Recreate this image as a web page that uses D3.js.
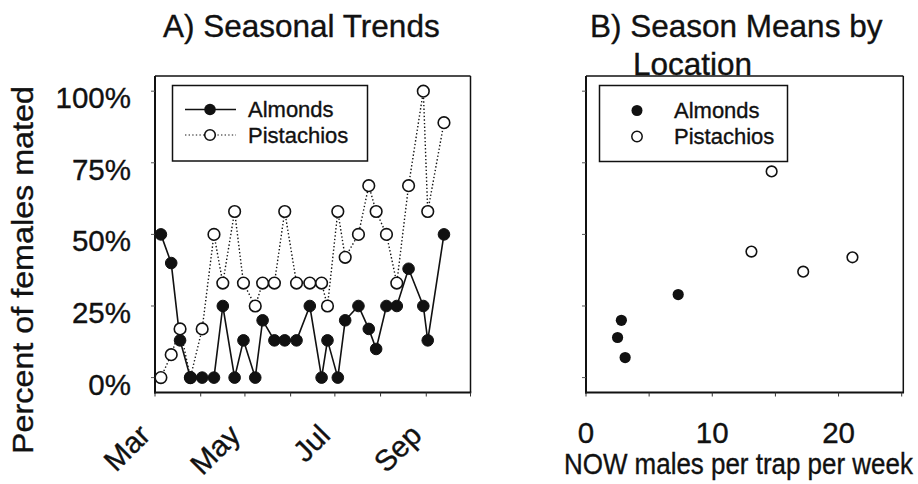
<!DOCTYPE html>
<html>
<head>
<meta charset="utf-8">
<script src="https://cdn.jsdelivr.net/npm/d3@7"></script>
<style>
  html, body { margin: 0; padding: 0; background: #fff; }
  svg { display: block; font-family: "Liberation Sans", Arial, sans-serif; }
  svg text { stroke: #111; stroke-width: 0.35px; }
</style>
</head>
<body>
<svg id="chart" width="918" height="484"></svg>
<script>
// ---- Data ----
const sampleDates = ["2001-03-05","2001-03-12","2001-03-18","2001-03-25","2001-04-02","2001-04-10",
  "2001-04-16","2001-04-24","2001-04-30","2001-05-08","2001-05-13","2001-05-21","2001-05-28",
  "2001-06-05","2001-06-14","2001-06-22","2001-06-26","2001-07-03","2001-07-08","2001-07-17",
  "2001-07-24","2001-07-29","2001-08-05","2001-08-12","2001-08-20","2001-08-30","2001-09-02","2001-09-13"];
const almondsPct = [50, 40, 13, 0, 0, 0, 25, 0, 13, 0, 20, 13, 13, 13, 25, 0, 13, 0, 20, 25, 17, 10, 25, 25, 38, 25, 13, 50];
const pistachiosPct = [0, 8, 17, 0, 17, 50, 33, 58, 33, 25, 33, 33, 58, 33, 33, 33, 25, 58, 42, 50, 67, 58, 50, 33, 67, 100, 58, 89];

const almondMeansX = [2.8, 2.5, 3.1, 7.3];
const almondMeansY = [20, 14, 7, 29];
const pistachioMeansX = [14.7, 13.1, 17.2, 21.1];
const pistachioMeansY = [72, 44, 37, 42];

const yTickValues = [0, 25, 50, 75, 100];
const yTickLabels = ["0%", "25%", "50%", "75%", "100%"];
const monthTicks = ["2001-03-01","2001-04-01","2001-05-01","2001-06-01","2001-07-01","2001-08-01","2001-09-01","2001-10-01"];
const monthLabels = ["Mar", "", "May", "", "Jul", "", "Sep", ""];
const bTickValues = [0, 5, 10, 15, 20, 25];
const bTickLabels = ["0", "", "10", "", "20", ""];
const seriesNames = ["Almonds", "Pistachios"];

// ---- Setup ----
const svg = d3.select("#chart");
const parse = d3.timeParse("%Y-%m-%d");
const dates = sampleDates.map(parse);

const y = d3.scaleLinear().domain([-5.2, 105.3]).range([392.5, 76]);

// Panel A scales
const xA = d3.scaleTime().domain([parse("2001-03-01"), parse("2001-10-01")]).range([155, 470.5]);
// Panel B scales
const xB = d3.scaleLinear().domain([0, 25]).range([586, 901.7]);

const black = "#111";

function drawFrame(x0, x1) {
  const g = svg.append("g");
  g.append("line").attr("x1", x0).attr("x2", x1).attr("y1", y.range()[1]).attr("y2", y.range()[1])
    .attr("stroke", black).attr("stroke-width", 1.5);
  g.append("line").attr("x1", x1).attr("x2", x1).attr("y1", y.range()[1]).attr("y2", y.range()[0])
    .attr("stroke", black).attr("stroke-width", 1.5);
  g.append("line").attr("x1", x0).attr("x2", x0).attr("y1", y.range()[1]).attr("y2", y.range()[0] + 1)
    .attr("stroke", black).attr("stroke-width", 2);
  g.append("line").attr("x1", x0 - 1).attr("x2", x1 + 0.75).attr("y1", y.range()[0]).attr("y2", y.range()[0])
    .attr("stroke", black).attr("stroke-width", 2);
}

// ---- Panel A ----
drawFrame(xA.range()[0], xA.range()[1]);

// y ticks A
const gYA = svg.append("g");
yTickValues.forEach((v, i) => {
  gYA.append("line").attr("x1", xA.range()[0] - 4).attr("x2", xA.range()[0])
    .attr("y1", y(v)).attr("y2", y(v)).attr("stroke", "#555").attr("stroke-width", 1);
  gYA.append("text").attr("x", 131).attr("y", y(v) + 17)
    .attr("text-anchor", "end").attr("font-size", 29.5).attr("fill", black).text(yTickLabels[i]);
});

// x ticks A
const gXA = svg.append("g");
monthTicks.forEach((m, i) => {
  const xv = xA(parse(m));
  gXA.append("line").attr("x1", xv).attr("x2", xv).attr("y1", y.range()[0]).attr("y2", y.range()[0] + 4)
    .attr("stroke", "#333").attr("stroke-width", 1);
  if (monthLabels[i]) {
    gXA.append("text").attr("text-anchor", "end").attr("font-size", 29.5).attr("fill", black)
      .attr("transform", `translate(${xv - 3},${437}) rotate(-45)`).text(monthLabels[i]);
  }
});

// lines
const lineA = d3.line().x((d, i) => xA(dates[i])).y(d => y(d));
svg.append("path").datum(pistachiosPct).attr("d", lineA).attr("fill", "none")
  .attr("stroke", black).attr("stroke-width", 1.4).attr("stroke-dasharray", "1.4,2.2");
svg.append("path").datum(almondsPct).attr("d", lineA).attr("fill", "none")
  .attr("stroke", black).attr("stroke-width", 1.6);

svg.append("g").selectAll("circle").data(pistachiosPct).join("circle")
  .attr("cx", (d, i) => xA(dates[i])).attr("cy", d => y(d)).attr("r", 5.8)
  .attr("fill", "#fff").attr("stroke", black).attr("stroke-width", 1.6);
svg.append("g").selectAll("circle").data(almondsPct).join("circle")
  .attr("cx", (d, i) => xA(dates[i])).attr("cy", d => y(d)).attr("r", 5.8)
  .attr("fill", black).attr("stroke", black).attr("stroke-width", 1);

// legend A
const legA = svg.append("g");
legA.append("rect").attr("x", 172.5).attr("y", 85.5).attr("width", 195).attr("height", 75.5)
  .attr("fill", "#fff").attr("stroke", black).attr("stroke-width", 1.5);
legA.append("line").attr("x1", 185).attr("x2", 236).attr("y1", 109.5).attr("y2", 109.5)
  .attr("stroke", black).attr("stroke-width", 1.6);
legA.append("circle").attr("cx", 210).attr("cy", 109.5).attr("r", 5.8).attr("fill", black);
legA.append("line").attr("x1", 185).attr("x2", 236).attr("y1", 135).attr("y2", 135)
  .attr("stroke", "#666").attr("stroke-width", 1.4).attr("stroke-dasharray", "1.4,2.2");
legA.append("circle").attr("cx", 210).attr("cy", 135).attr("r", 5.3).attr("fill", "#fff")
  .attr("stroke", black).attr("stroke-width", 1.6);
legA.append("text").attr("x", 248).attr("y", 117).attr("font-size", 22).attr("fill", black).text(seriesNames[0]);
legA.append("text").attr("x", 248).attr("y", 143).attr("font-size", 22).attr("fill", black).text(seriesNames[1]);

// y label (slightly stretched along its length like the reference)
svg.append("text").attr("text-anchor", "middle").attr("font-size", 29.5).attr("fill", black)
  .attr("transform", `translate(33,270) rotate(-90) scale(1.095,1)`).text("Percent of females mated");

// title A
svg.append("text").attr("x", 163).attr("y", 37).attr("font-size", 31.5).attr("fill", black).text("A) Seasonal Trends");

// ---- Panel B ----
drawFrame(xB.range()[0], 903.3);

const gYB = svg.append("g");
yTickValues.forEach(v => {
  gYB.append("line").attr("x1", xB.range()[0] - 4).attr("x2", xB.range()[0])
    .attr("y1", y(v)).attr("y2", y(v)).attr("stroke", "#555").attr("stroke-width", 1);
});
const gXB = svg.append("g");
bTickValues.forEach((v, i) => {
  gXB.append("line").attr("x1", xB(v)).attr("x2", xB(v)).attr("y1", y.range()[0]).attr("y2", y.range()[0] + 4)
    .attr("stroke", "#333").attr("stroke-width", 1);
  if (bTickLabels[i]) {
    gXB.append("text").attr("x", xB(v)).attr("y", 443).attr("text-anchor", "middle")
      .attr("font-size", 29.5).attr("fill", black).text(bTickLabels[i]);
  }
});

svg.append("g").selectAll("circle").data(almondMeansX).join("circle")
  .attr("cx", d => xB(d)).attr("cy", (d, i) => y(almondMeansY[i])).attr("r", 5.6).attr("fill", black);
svg.append("g").selectAll("circle").data(pistachioMeansX).join("circle")
  .attr("cx", d => xB(d)).attr("cy", (d, i) => y(pistachioMeansY[i])).attr("r", 5.3)
  .attr("fill", "#fff").attr("stroke", black).attr("stroke-width", 1.6);

// legend B
const legB = svg.append("g");
legB.append("rect").attr("x", 599.5).attr("y", 85.5).attr("width", 188).attr("height", 76)
  .attr("fill", "#fff").attr("stroke", black).attr("stroke-width", 1.5);
legB.append("circle").attr("cx", 637).attr("cy", 110.5).attr("r", 5.5).attr("fill", black);
legB.append("circle").attr("cx", 637).attr("cy", 136.5).attr("r", 5.2).attr("fill", "#fff")
  .attr("stroke", black).attr("stroke-width", 1.5);
legB.append("text").attr("x", 674).attr("y", 117.5).attr("font-size", 22).attr("fill", black).text(seriesNames[0]);
legB.append("text").attr("x", 674).attr("y", 143.5).attr("font-size", 22).attr("fill", black).text(seriesNames[1]);

// x label B (horizontally condensed like the reference)
svg.append("text").attr("font-size", 29.5).attr("fill", black)
  .attr("transform", "translate(564,474) scale(0.88,1)")
  .text("NOW males per trap per week");

// title B
svg.append("text").attr("x", 590).attr("y", 37).attr("font-size", 31.5).attr("fill", black).text("B) Season Means by");
svg.append("text").attr("x", 633).attr("y", 75).attr("font-size", 31.5).attr("fill", black).text("Location");
</script>
</body>
</html>
